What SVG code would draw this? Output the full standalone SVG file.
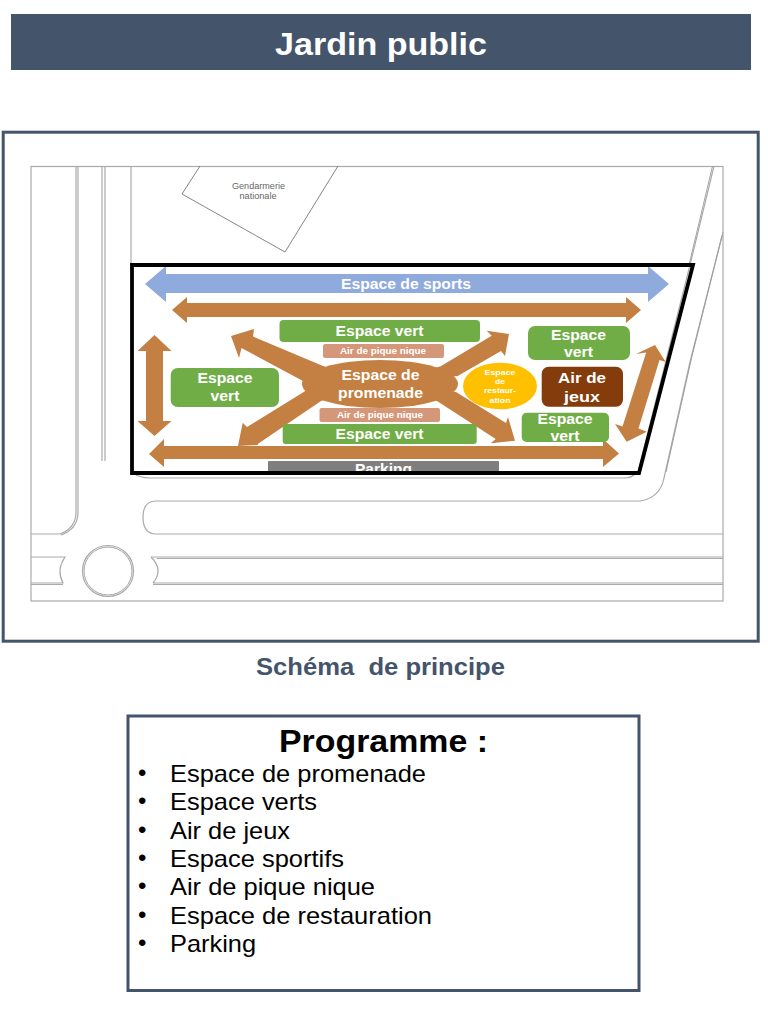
<svg xmlns="http://www.w3.org/2000/svg" width="768" height="1024" viewBox="0 0 768 1024">
<style>
text{font-family:"Liberation Sans",Arial,sans-serif}
.w{fill:#fff;font-weight:bold;text-anchor:middle}
.p{fill:none;stroke:#aaa;stroke-width:1.2}
.d{fill:none;stroke:#999;stroke-width:.9}
.a{fill:#c47f42}
.g{fill:#70ad47}
.n{fill:#d5977a}
.l{fill:#000;font-size:24px}
</style>
<defs><clipPath id="pk"><rect x="260" y="455" width="250" height="17"/></clipPath></defs>
<rect width="768" height="1024" fill="#fff"/>
<g id="title"><rect x="11" y="14" width="740" height="56" fill="#44546a"/><text class="w" x="381" y="55" font-size="32" textLength="212" lengthAdjust="spacingAndGlyphs">Jardin public</text></g>
<rect id="frame" x="3.200" y="132.200" width="755" height="509" fill="#fff" stroke="#44546a" stroke-width="3"/>
<g id="plan">
<rect class="p" x="31" y="166.500" width="692" height="434.500"/>
<path class="p" d="M76 166V512Q76 528 60 534H31"/>
<path class="p" d="M78 166V512Q78 529 61 535"/>
<path class="p" d="M102 166V461M105 166V461"/>
<path class="p" d="M131 166V265"/>
<path class="p" d="M133 473Q140 478 150 478H625Q632 478 637 472"/>
<path class="p" d="M640 501H156Q143 501 143 517Q143 534 156 534H723"/>
<path class="p" d="M640 501Q660 498 664 478L690 362L723 232"/>
<path class="d" d="M722 236L692 356L666 472"/>
<path class="p" d="M714 166L690 265L638 472"/>
<path class="d" d="M712.500 166L689 265"/>
<path class="p" d="M31 557H65Q56 570 63 583H31M31 584.500H63"/>
<path class="p" d="M151 557H723M157 558.500H723M153 583H723M153 584.500H723"/>
<path class="p" d="M151 557Q164 570 153 583"/>
<circle class="p" cx="108" cy="571" r="25.500"/><circle class="d" cx="108" cy="571" r="24"/>
<path d="M200 166L182 194L285 252L338 166" fill="none" stroke="#666" stroke-width=".8"/>
<text x="258.500" y="189" font-size="9.500" fill="#666" text-anchor="middle" textLength="53" lengthAdjust="spacingAndGlyphs">Gendarmerie</text>
<text x="258" y="199" font-size="9.500" fill="#666" text-anchor="middle" textLength="37" lengthAdjust="spacingAndGlyphs">nationale</text>
</g>
<g id="connectors">
<path fill="#8faadc" d="M145 284L166 266V274H648V266L669 284L648 302V293H166V302Z"/>
<path class="a" d="M172 310L187 297V303H626V297L641 310L626 323V317H187V323Z"/>
<path class="a" d="M154.500 335L171.500 351H163V421H171.500L154.500 436L137.500 421H146V351H137.500Z"/>
<path class="a" d="M149 454L164 439V446H603V439L619 453.500L603 467V459H164V467Z"/>
<path class="a" d="M231 336L254 329L253 336.500L323 366L380 384L303 381L241.500 348L239 358Z"/>
<path class="a" d="M238 446L242.700 422.700L247 427L305.700 390.700L380 384L321 401L257.700 444L258 445Z"/>
<path class="a" d="M509 334L486.700 330.700L491.700 335.700L440.700 366.300L380 384L457.700 376L501 351L505 356Z"/>
<path class="a" d="M515 440.700L490.700 443.300L495.700 439L437 401L380 384L456 392L506 423L508 417Z"/>
<path class="a" d="M655 345L665.700 362L659.500 360L638.500 428.500L646.700 431.700L626.700 441.700L615 424L622.500 426.500L646.200 352.500L636 354Z"/>
</g>
<g id="promenade"><ellipse class="a" cx="380" cy="384" rx="78" ry="24"/><text class="w" x="380.500" y="380" font-size="14.500" textLength="78" lengthAdjust="spacingAndGlyphs">Espace de</text><text class="w" x="380.500" y="397.500" font-size="14.500" textLength="85" lengthAdjust="spacingAndGlyphs">promenade</text></g>
<text id="sports" class="w" x="406" y="289" font-size="14.500" textLength="130" lengthAdjust="spacingAndGlyphs">Espace de sports</text>
<g id="vert1"><rect class="g" x="279.500" y="320" width="200.500" height="22" rx="4"/><text class="w" x="379.500" y="336" font-size="14.500" textLength="88" lengthAdjust="spacingAndGlyphs">Espace vert</text></g>
<g id="pique1"><rect class="n" x="323" y="344" width="121" height="14" rx="2"/><text class="w" x="383" y="354" font-size="9.500" textLength="86" lengthAdjust="spacingAndGlyphs">Air de pique nique</text></g>
<g id="vert2"><rect class="g" x="528" y="326" width="102" height="34" rx="7"/><text class="w" x="578.500" y="340" font-size="14.500" textLength="55" lengthAdjust="spacingAndGlyphs">Espace</text><text class="w" x="578.500" y="357" font-size="14.500" textLength="29" lengthAdjust="spacingAndGlyphs">vert</text></g>
<g id="vert3"><rect class="g" x="170.700" y="368" width="108.300" height="39" rx="7"/><text class="w" x="225" y="383" font-size="14.500" textLength="55" lengthAdjust="spacingAndGlyphs">Espace</text><text class="w" x="225" y="401" font-size="14.500" textLength="29" lengthAdjust="spacingAndGlyphs">vert</text></g>
<g id="pique2"><rect class="n" x="319.500" y="408" width="120.500" height="14" rx="2"/><text class="w" x="380" y="418" font-size="9.500" textLength="86" lengthAdjust="spacingAndGlyphs">Air de pique nique</text></g>
<g id="vert4"><rect class="g" x="282.700" y="424" width="194" height="20" rx="3"/><text class="w" x="379.500" y="439" font-size="14.500" textLength="88" lengthAdjust="spacingAndGlyphs">Espace vert</text></g>
<g id="restauration"><ellipse cx="500" cy="386" rx="37" ry="23.300" fill="#ffc000"/>
<text class="w" x="500" y="374.500" font-size="8" textLength="31" lengthAdjust="spacingAndGlyphs">Espace</text><text class="w" x="500" y="384" font-size="8" textLength="10" lengthAdjust="spacingAndGlyphs">de</text><text class="w" x="500" y="393" font-size="8" textLength="32" lengthAdjust="spacingAndGlyphs">restaur-</text><text class="w" x="500" y="403" font-size="8" textLength="21" lengthAdjust="spacingAndGlyphs">ation</text></g>
<g id="jeux"><rect x="541.700" y="366.700" width="81.300" height="40" rx="7" fill="#843c0c"/><text class="w" x="582" y="382.500" font-size="14.500" textLength="48" lengthAdjust="spacingAndGlyphs">Air de</text><text class="w" x="582" y="402" font-size="14.500" textLength="36" lengthAdjust="spacingAndGlyphs">jeux</text></g>
<g id="vert5"><rect class="g" x="521.700" y="412.700" width="87.300" height="29.300" rx="5"/><text class="w" x="565" y="424" font-size="14.500" textLength="55" lengthAdjust="spacingAndGlyphs">Espace</text><text class="w" x="565" y="441" font-size="14.500" textLength="29" lengthAdjust="spacingAndGlyphs">vert</text></g>
<g id="parking"><rect x="268" y="461" width="231" height="12" rx="1" fill="#7f7f7f"/><text class="w" x="383.500" y="474" font-size="14.500" clip-path="url(#pk)" textLength="57" lengthAdjust="spacingAndGlyphs">Parking</text></g>
<path id="zone" d="M132 265H693L639 473H132Z" fill="none" stroke="#000" stroke-width="3.800"/>
<text id="caption" x="380.500" y="675" font-size="24" font-weight="bold" fill="#44546a" text-anchor="middle" xml:space="preserve" textLength="249" lengthAdjust="spacingAndGlyphs">Schéma  de principe</text>
<g id="programme">
<rect x="128" y="716" width="511" height="274.500" fill="#fff" stroke="#44546a" stroke-width="3"/>
<text x="383.500" y="752" font-size="32" font-weight="bold" text-anchor="middle" textLength="209" lengthAdjust="spacingAndGlyphs">Programme :</text>
<text class="l" x="138" y="781">•</text><text class="l" x="170" y="782" textLength="256" lengthAdjust="spacingAndGlyphs">Espace de promenade</text>
<text class="l" x="138" y="809">•</text><text class="l" x="170" y="810" textLength="147" lengthAdjust="spacingAndGlyphs">Espace verts</text>
<text class="l" x="138" y="838">•</text><text class="l" x="170" y="839" textLength="120" lengthAdjust="spacingAndGlyphs">Air de jeux</text>
<text class="l" x="138" y="866">•</text><text class="l" x="170" y="867" textLength="174" lengthAdjust="spacingAndGlyphs">Espace sportifs</text>
<text class="l" x="138" y="894">•</text><text class="l" x="170" y="895" textLength="205" lengthAdjust="spacingAndGlyphs">Air de pique nique</text>
<text class="l" x="138" y="923">•</text><text class="l" x="170" y="924" textLength="262" lengthAdjust="spacingAndGlyphs">Espace de restauration</text>
<text class="l" x="138" y="951">•</text><text class="l" x="170" y="952" textLength="86" lengthAdjust="spacingAndGlyphs">Parking</text>
</g>
</svg>
